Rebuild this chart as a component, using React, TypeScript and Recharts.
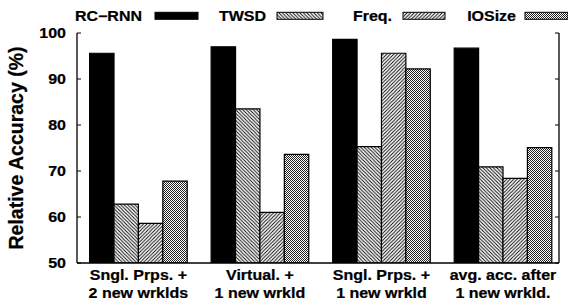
import React from 'react';
import { BarChart, Bar, XAxis, YAxis } from 'recharts';

const categories: string[][] = [
  ['Sngl. Prps. +', '2 new wrklds'],
  ['Virtual. +', '1 new wrkld'],
  ['Sngl. Prps. +', '1 new wrkld'],
  ['avg. acc. after', '1 new wrkld.'],
];
const seriesNames = ['RC\u2212RNN', 'TWSD', 'Freq.', 'IOSize'];
const rcRnn = [95.6, 97.0, 98.6, 96.7];
const twsd = [62.8, 83.5, 75.3, 70.9];
const freq = [58.6, 61.0, 95.6, 68.4];
const ioSize = [67.8, 73.6, 92.2, 75.1];
const yTicks = [50, 60, 70, 80, 90, 100];
const yDomain: [number, number] = [50, 100];

const seriesValues = [rcRnn, twsd, freq, ioSize];
const seriesKeys = ['rc', 'twsd', 'freq', 'io'];
const seriesFills = ['#000', 'url(#patTwsd)', 'url(#patFreq)', 'url(#patIo)'];

const data = categories.map((c, i) => {
  const row: any = { x: i };
  seriesKeys.forEach((k, j) => (row[k] = seriesValues[j][i]));
  return row;
});
const xTicks = categories.map((_, i) => i);
const xDomain: [number, number] = [-0.505, 3.461];

const FONT = '"Liberation Sans", Arial, Helvetica, sans-serif';
const SQ = 0.86;

const Sq = ({ x, y, anchor, size, children }: any) => (
  <text
    x={x}
    y={y}
    textAnchor={anchor}
    fontFamily={FONT}
    fontWeight="bold"
    fontSize={size}
    fill="#000"
    stroke="#000"
    strokeWidth={0.25}
    transform={`matrix(1,0,0,${SQ},0,${y * (1 - SQ)})`}
  >
    {children}
  </text>
);

const CatTick = (props: any) => {
  const { x, y, payload } = props;
  const lines = categories[payload.value] || [];
  return (
    <g>
      {lines.map((l, i) => (
        <Sq key={i} x={x} y={y + 16.8 + i * 17.8} anchor="middle" size={16}>
          {l}
        </Sq>
      ))}
    </g>
  );
};

const YTick = (props: any) => {
  const { x, y, payload } = props;
  return (
    <Sq x={x} y={y + 5} anchor="end" size={16}>
      {payload.value}
    </Sq>
  );
};

const Empty = () => <g />;

const YLabel = (props: any) => {
  const vb = props.viewBox || { x: 0, y: 33, width: 77, height: 230 };
  const cx = 23;
  const cy = vb.y + vb.height / 2;
  return (
    <text
      x={cx}
      y={cy}
      textAnchor="middle"
      fontFamily={FONT}
      fontWeight="bold"
      fontSize={19.5}
      fill="#000"
      stroke="#000"
      strokeWidth={0.25}
      transform={`rotate(-90 ${cx} ${cy})`}
    >
      Relative Accuracy (%)
    </text>
  );
};

const legendTextEnd = [142, 266, 392, 516];
const legendBoxX = [155, 277, 403, 525];
const legendBoxW = [43, 46, 42, 43];

export default function App() {
  return (
    <div style={{ position: 'absolute', left: 0, top: 0, width: 568, height: 303, background: '#fff' }}>
      <svg width={0} height={0} style={{ position: 'absolute' }}>
        <defs>
          <pattern id="patTwsd" patternUnits="userSpaceOnUse" width={3.5} height={3.5}>
            <rect width={3.5} height={3.5} fill="#fff" />
            <path d="M-1,-1 L4.5,4.5 M-1,2.5 L1,4.5 M2.5,-1 L4.5,1" stroke="#000" strokeWidth={0.9} />
          </pattern>
          <pattern id="patFreq" patternUnits="userSpaceOnUse" width={3.5} height={3.5}>
            <rect width={3.5} height={3.5} fill="#fff" />
            <path d="M-1,4.5 L4.5,-1 M-1,1 L1,-1 M2.5,4.5 L4.5,2.5" stroke="#000" strokeWidth={0.9} />
          </pattern>
          <pattern id="patIo" patternUnits="userSpaceOnUse" width={2} height={2}>
            <rect width={2} height={2} fill="#fff" />
            <rect x={0} y={0} width={1} height={1} fill="#222" />
            <rect x={1} y={1} width={1} height={1} fill="#222" />
          </pattern>
        </defs>
      </svg>
      <BarChart
        width={568}
        height={303}
        data={data}
        margin={{ top: 33, right: 0, bottom: 0, left: 0 }}
        barGap={0}
      >
        <XAxis
          dataKey="x"
          type="number"
          domain={xDomain}
          allowDataOverflow
          ticks={xTicks}
          interval={0}
          height={40}
          tickLine={false}
          tickMargin={0}
          tickSize={0}
          tick={<CatTick />}
          axisLine={{ stroke: '#000', strokeWidth: 1.3 }}
        />
        <XAxis
          xAxisId="top"
          orientation="top"
          type="number"
          domain={xDomain}
          allowDataOverflow
          ticks={xTicks}
          interval={0}
          height={0}
          tickSize={-4}
          tick={<Empty />}
          tickLine={{ stroke: '#000', strokeWidth: 1 }}
          axisLine={{ stroke: '#000', strokeWidth: 1.3 }}
        />
        <YAxis
          type="number"
          domain={yDomain}
          allowDataOverflow
          ticks={yTicks}
          interval={0}
          width={77}
          tickSize={-4}
          tickMargin={15}
          tick={<YTick />}
          tickLine={{ stroke: '#000', strokeWidth: 1 }}
          axisLine={{ stroke: '#000', strokeWidth: 1.3 }}
          label={<YLabel />}
        />
        <YAxis
          yAxisId="right"
          orientation="right"
          type="number"
          domain={yDomain}
          allowDataOverflow
          ticks={yTicks}
          interval={0}
          width={9}
          tickSize={-4}
          tick={<Empty />}
          tickLine={{ stroke: '#000', strokeWidth: 1 }}
          axisLine={{ stroke: '#000', strokeWidth: 1.3 }}
        />
        {seriesKeys.map((k, j) => (
          <Bar
            key={k}
            dataKey={k}
            name={seriesNames[j]}
            fill={seriesFills[j]}
            stroke="#000"
            strokeWidth={1.2}
            barSize={24.4}
            isAnimationActive={false}
          />
        ))}
      </BarChart>
      <svg width={568} height={30} style={{ position: 'absolute', left: 0, top: 0 }}>
        {seriesNames.map((n, j) => (
          <g key={n}>
            <Sq x={legendTextEnd[j]} y={21} anchor="end" size={16}>
              {n}
            </Sq>
            <rect
              x={legendBoxX[j]}
              y={12.3}
              width={legendBoxW[j]}
              height={7}
              fill={seriesFills[j]}
              stroke="#000"
              strokeWidth={1}
            />
          </g>
        ))}
      </svg>
    </div>
  );
}
